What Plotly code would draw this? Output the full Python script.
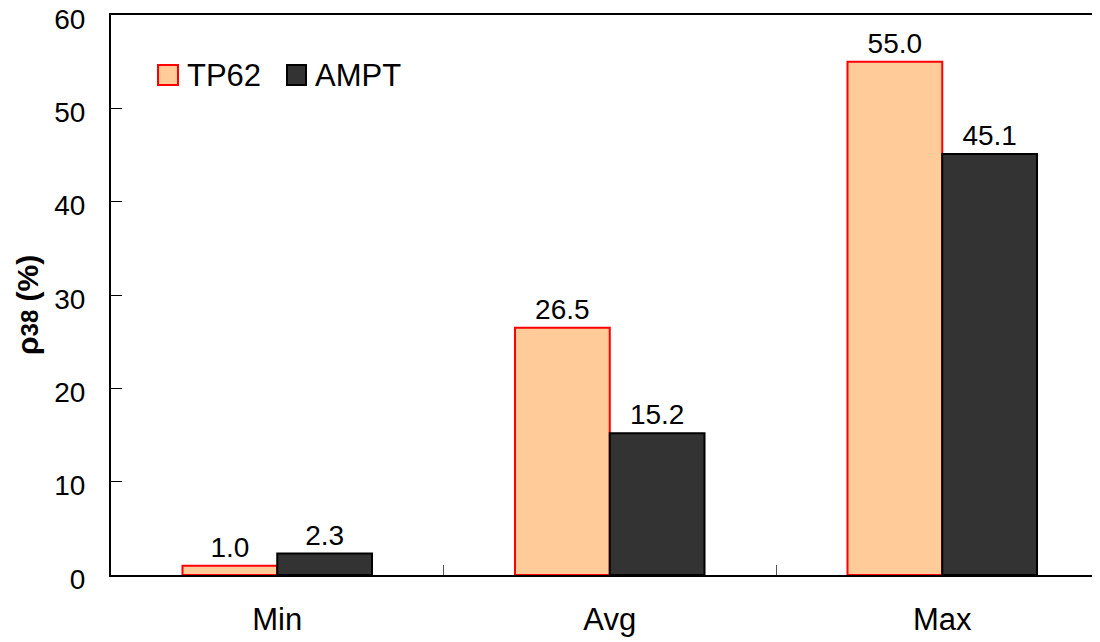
import plotly.graph_objects as go

categories = ["Min", "Avg", "Max"]
tp62 = [1.0, 26.5, 55.0]
ampt = [2.3, 15.2, 45.1]
tp62_labels = ["1.0", "26.5", "55.0"]
ampt_labels = ["2.3", "15.2", "45.1"]
yticks = [0, 10, 20, 30, 40, 50, 60]

FONT = "Liberation Sans, Arial, sans-serif"

fig = go.Figure()
fig.add_trace(go.Bar(
    x=categories, y=tp62, name="TP62", text=tp62_labels,
    textposition="outside", cliponaxis=False,
    textfont=dict(size=28, color="black", family=FONT),
    marker=dict(color="#FFCC99", line=dict(color="#FF0000", width=2)),
    showlegend=False,
))
fig.add_trace(go.Bar(
    x=categories, y=ampt, name="AMPT", text=ampt_labels,
    textposition="outside", cliponaxis=False,
    textfont=dict(size=28, color="black", family=FONT),
    marker=dict(color="#333333", line=dict(color="#000000", width=2)),
    showlegend=False,
))

# page has an 8px body margin; compensate so the plot area lands where the reference has it
OFF = 8
PL, PT, PB, PR = 111, 15, 575, 1100  # plot area in page pixels
W, H = 1100 - OFF, 642 - OFF
pw = PR - PL
ph = PB - PT

def px_x(x):
    return (x - PL) / pw

def px_y(y):
    return (PB - y) / ph

shapes = [
    dict(type="rect", xref="paper", yref="paper",
         x0=px_x(158), x1=px_x(178), y0=px_y(85), y1=px_y(65),
         fillcolor="#FFCC99", line=dict(color="#FF0000", width=2)),
    dict(type="rect", xref="paper", yref="paper",
         x0=px_x(287), x1=px_x(306), y0=px_y(85), y1=px_y(65),
         fillcolor="#333333", line=dict(color="#000000", width=2)),
]
annotations = [
    dict(text="TP62", xref="paper", yref="paper", x=px_x(185), y=px_y(76),
         xanchor="left", yanchor="middle", showarrow=False,
         font=dict(size=31, color="black", family=FONT)),
    dict(text="AMPT", xref="paper", yref="paper", x=px_x(313), y=px_y(76),
         xanchor="left", yanchor="middle", showarrow=False,
         font=dict(size=31, color="black", family=FONT)),
    dict(text="<b>ρ<span style='font-size:24px'>38</span> (%)</b>",
         xref="paper", yref="paper", x=px_x(28), y=px_y(305),
         xanchor="center", yanchor="middle", textangle=-90, showarrow=False,
         font=dict(size=30, color="black", family=FONT)),
]

fig.update_layout(
    width=W, height=H,
    margin=dict(l=PL - OFF, r=0, t=PT - OFF, b=H - (PB - OFF), pad=0, autoexpand=False),
    paper_bgcolor="white", plot_bgcolor="white",
    barmode="group", bargap=0.43, bargroupgap=0,
    font=dict(family=FONT, size=28, color="black"),
    shapes=shapes, annotations=annotations,
    showlegend=False,
)
fig.update_xaxes(
    range=[-0.5, 2.5 - 8.5 / 332.5], automargin=False,
    showline=True, linecolor="black", linewidth=2, mirror=True,
    ticks="inside", tickson="boundaries", ticklen=10, tickcolor="#555555", tickwidth=1,
    showgrid=False, zeroline=False,
    tickfont=dict(size=31, color="black", family=FONT),
    ticklabelstandoff=16,
)
fig.update_yaxes(
    range=[0, 60], tickvals=yticks, automargin=False,
    showline=True, linecolor="black", linewidth=2, mirror=False,
    ticks="inside", ticklen=11, tickcolor="black", tickwidth=1,
    showgrid=False, zeroline=False,
    tickfont=dict(size=28, color="black", family=FONT),
    ticklabelstandoff=18, ticklabeloverflow="allow", ticklabelshift=4,
)

fig.write_html("out.html")
